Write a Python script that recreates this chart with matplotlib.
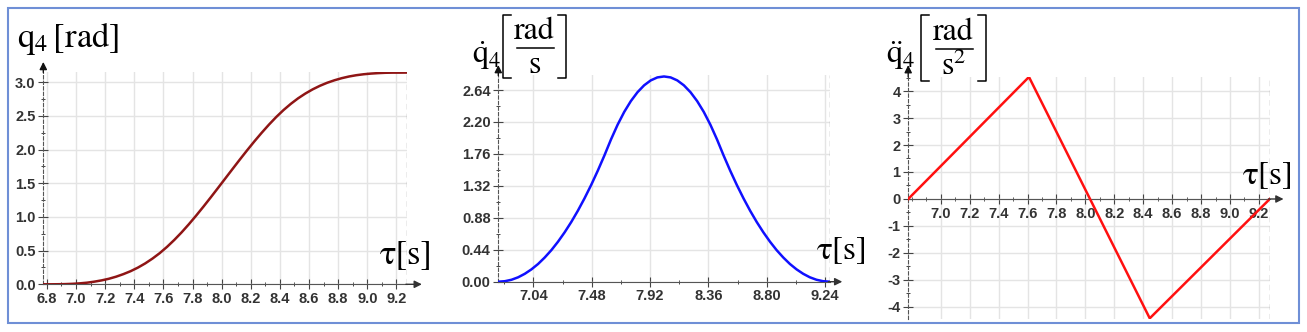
import matplotlib.pyplot as plt
from matplotlib.ticker import MultipleLocator
from matplotlib.patches import Rectangle
from matplotlib.lines import Line2D

plt.rcParams['mathtext.fontset'] = 'stix'
plt.rcParams['axes.unicode_minus'] = False
plt.rcParams['font.family'] = ['Liberation Sans', 'DejaVu Sans']

# time samples [s]
tau = [6.775, 6.825, 6.875, 6.925, 6.975, 7.025, 7.075, 7.125, 7.175, 7.225,
       7.275, 7.325, 7.375, 7.425, 7.475, 7.525, 7.575, 7.625, 7.675, 7.725,
       7.775, 7.825, 7.875, 7.925, 7.975, 8.025, 8.075, 8.125, 8.175, 8.225,
       8.275, 8.325, 8.375, 8.425, 8.475, 8.525, 8.575, 8.625, 8.675, 8.725,
       8.775, 8.825, 8.875, 8.925, 8.975, 9.025, 9.075, 9.125, 9.175, 9.225,
       9.275]

# joint position q4 [rad]
q4 = [0.000, 0.000, 0.001, 0.003, 0.007, 0.014, 0.024, 0.039, 0.058, 0.082,
      0.113, 0.151, 0.195, 0.248, 0.310, 0.382, 0.463, 0.556, 0.659, 0.771,
      0.892, 1.020, 1.153, 1.290, 1.430, 1.571, 1.712, 1.852, 1.989, 2.122,
      2.249, 2.370, 2.483, 2.586, 2.678, 2.760, 2.831, 2.893, 2.946, 2.991,
      3.028, 3.059, 3.084, 3.103, 3.117, 3.127, 3.134, 3.139, 3.141, 3.141,
      3.142]

# joint velocity [rad/s]
dq4 = [0.000, 0.007, 0.027, 0.061, 0.109, 0.170, 0.244, 0.333, 0.434, 0.550,
       0.679, 0.821, 0.977, 1.147, 1.330, 1.527, 1.737, 1.959, 2.162, 2.339,
       2.488, 2.610, 2.705, 2.773, 2.814, 2.827, 2.814, 2.773, 2.705, 2.610,
       2.488, 2.339, 2.162, 1.959, 1.737, 1.527, 1.330, 1.147, 0.977, 0.821,
       0.679, 0.550, 0.434, 0.333, 0.244, 0.170, 0.109, 0.061, 0.027, 0.007,
       0.000]

# joint acceleration [rad/s^2] (piecewise linear)
tau_acc = [6.775, 7.610, 8.445, 9.275]
ddq4 = [0.0, 4.52, -4.42, 0.0]

# tick labels
x1_ticks = [6.8, 7.0, 7.2, 7.4, 7.6, 7.8, 8.0, 8.2, 8.4, 8.6, 8.8, 9.0, 9.2]
y1_ticks = [0.0, 0.5, 1.0, 1.5, 2.0, 2.5, 3.0]
x2_ticks = [7.04, 7.48, 7.92, 8.36, 8.80, 9.24]
y2_ticks = [0.00, 0.44, 0.88, 1.32, 1.76, 2.20, 2.64]
x3_ticks = [7.0, 7.2, 7.4, 7.6, 7.8, 8.0, 8.2, 8.4, 8.6, 8.8, 9.0, 9.2]
y3_ticks = [-4, -3, -2, -1, 0, 1, 2, 3, 4]

W, H = 1307, 332
fig = plt.figure(figsize=(W / 100, H / 100), dpi=100)


def px(x, y):
    # pixel position (from top-left) -> figure fraction
    return x / W, 1 - y / H


def add_panel(left, top, right, bottom):
    return fig.add_axes([left / W, 1 - bottom / H, (right - left) / W, (bottom - top) / H])


def style(ax, ylim, xt, xfmt, xminor, yt, yfmt, yminor, xarrow, yarrow):
    xlim = (tau[0], tau[-1])
    ax.set_xlim(xlim)
    ax.set_ylim(ylim)
    ax.set_xticks(xt, [xfmt % v for v in xt])
    ax.set_yticks(yt, [yfmt % v for v in yt])
    ax.xaxis.set_minor_locator(MultipleLocator(xminor))
    ax.yaxis.set_minor_locator(MultipleLocator(yminor))
    for s in ['top', 'right']:
        ax.spines[s].set_visible(False)
    ax.spines['bottom'].set_position(('data', 0))
    ax.spines['bottom'].set_color('#555555')
    ax.spines['left'].set_color('#555555')
    ax.spines['left'].set_linestyle((0, (3, 2)))
    ax.grid(True, which='major', color='#e4e4e4', lw=1)
    ax.set_axisbelow(True)
    ax.tick_params(which='major', direction='inout', length=7, width=0.8,
                   color='#444444', labelsize=10.5, labelcolor='#333333', pad=2)
    ax.tick_params(which='minor', direction='inout', length=3.5, width=0.7,
                   color='#444444')
    for lab in ax.get_xticklabels() + ax.get_yticklabels():
        lab.set_fontweight('bold')
    ax.axvline(xlim[1], color='#a0a0a0', ls=(0, (4, 3)), lw=1)
    ax.annotate('', xy=(xarrow, 0), xytext=(xlim[1] - 0.01, 0),
                arrowprops=dict(arrowstyle='-|>', color='#333333', lw=1,
                                mutation_scale=11, shrinkA=0, shrinkB=0),
                annotation_clip=False)
    ax.annotate('', xy=(xlim[0], yarrow), xytext=(xlim[0], ylim[1] - 0.01),
                arrowprops=dict(arrowstyle='-|>', color='#111111', lw=1,
                                mutation_scale=11, shrinkA=0, shrinkB=0),
                annotation_clip=False)


def bracket_frac(x0, x1, top, bot, bar_y, num, den, den_base, size):
    # thin square brackets around a stacked fraction
    serif = 8
    for xv, d in [(x0, 1), (x1, -1)]:
        xs = [xv + d * serif, xv, xv, xv + d * serif]
        ys = [top, top, bot, bot]
        fx = [px(a, 0)[0] for a in xs]
        fy = [px(0, b)[1] for b in ys]
        fig.add_artist(Line2D(fx, fy, color='black', lw=1.1))
    xc = (x0 + x1) / 2
    fig.add_artist(Line2D([px(xc - 18, 0)[0], px(xc + 19, 0)[0]],
                          [px(0, bar_y)[1]] * 2, color='black', lw=1.1))
    fig.text(*px(xc, bar_y - 9), num, family='STIXGeneral', fontsize=size,
             ha='center', va='baseline')
    fig.text(*px(xc, den_base), den, fontsize=size, ha='center', va='baseline')


# panel 1: position
ax1 = add_panel(43.3, 71.7, 407.3, 284.3)
ax1.plot(tau, q4, color='#8f1515', lw=1.8, zorder=3)
style(ax1, (0, 3.155), x1_ticks, '%.1f', 0.1, y1_ticks, '%.1f', 0.25, 9.375, 3.30)

# panel 2: velocity
ax2 = add_panel(498.3, 74.8, 829.7, 281.7)
ax2.plot(tau, dq4, color='#1010ff', lw=1.8, zorder=3)
style(ax2, (0, 2.85), x2_ticks, '%.2f', 0.22, y2_ticks, '%.2f', 0.22, 9.37, 2.985)

# panel 3: acceleration
ax3 = add_panel(908.2, 76.7, 1269.8, 319.4)
ax3.plot(tau_acc, ddq4, color='#ff1010', lw=1.8, zorder=3)
style(ax3, (-4.46, 4.53), x3_ticks, '%.1f', 0.1, y3_ticks, '%d', 0.5, 9.37, 4.96)

# axis titles
fig.text(*px(17, 47), r'$\mathrm{q}_4\,[\mathrm{rad}]$', fontsize=25, va='baseline')

fig.text(*px(472, 63), r'$\dot{\mathrm{q}}_4$', fontsize=23, va='baseline')
bracket_frac(503, 566, 15, 78, 48, 'rad', r'$\mathrm{s}$', 73, 23)

fig.text(*px(886, 63), r'$\ddot{\mathrm{q}}_4$', fontsize=23, va='baseline')
bracket_frac(921, 986, 15, 81, 49, 'rad', r'$\mathrm{s}^2$', 75, 23)

fig.text(*px(380, 263), 'τ[s]', family='STIXGeneral', fontsize=25, va='baseline')
fig.text(*px(817, 258), 'τ[s]', family='STIXGeneral', fontsize=24, va='baseline')
fig.text(*px(1243, 183), 'τ[s]', family='STIXGeneral', fontsize=24, va='baseline')

# outer frame
fig.patches.append(Rectangle(px(8, 323), (1299 - 8) / W, (323 - 8) / H,
                             transform=fig.transFigure, fill=False,
                             edgecolor='#6f8fd6', lw=1.5))

fig.savefig('out.png', dpi=100)
